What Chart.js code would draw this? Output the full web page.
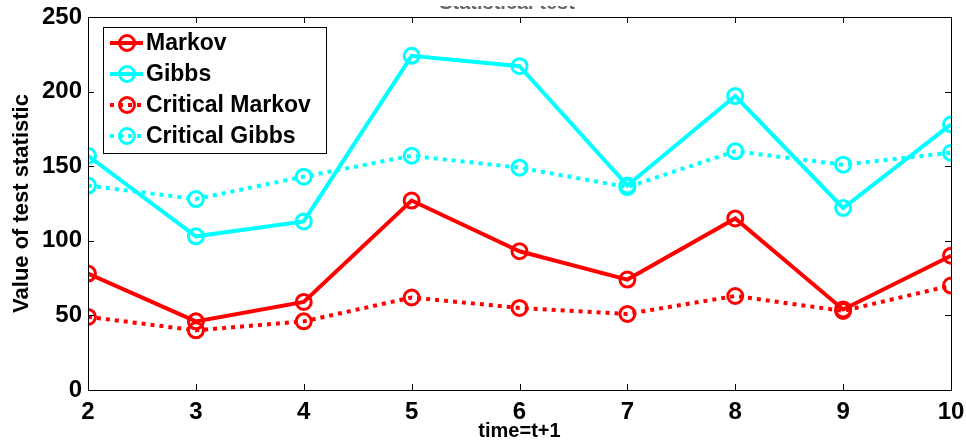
<!DOCTYPE html>
<html>
<head>
<meta charset="utf-8">
<script src="https://cdn.jsdelivr.net/npm/chart.js@4.4.1/dist/chart.umd.min.js"></script>
<style>
  html, body { margin: 0; padding: 0; background: #fff; }
  #wrap { width: 966px; height: 443px; position: relative; }
</style>
</head>
<body>
<div id="wrap"><canvas id="testChart" width="966" height="443"></canvas></div>
<script>
const FONT = "'Liberation Sans', Arial, sans-serif";

const times = [2, 3, 4, 5, 6, 7, 8, 9, 10];
const markov = [78, 46, 59, 127, 93, 74, 115, 54, 90];
const gibbs = [157, 103, 113, 224, 217, 137, 197, 122, 178];
const criticalMarkov = [49, 40, 46, 62, 55, 51, 63, 53, 70];
const criticalGibbs = [137, 128, 143, 157, 149, 136, 160, 151, 159];
const yTicks = [0, 50, 100, 150, 200, 250];

function toPoints(values) {
    return values.map((v, i) => ({ x: times[i], y: v }));
}

function series(label, values, color, dashed, order) {
    return {
        label: label,
        data: toPoints(values),
        borderColor: color,
        borderWidth: 4,
        borderDash: dashed ? [4, 5] : [],
        pointStyle: 'circle',
        pointRadius: 7.5,
        pointBorderWidth: 3,
        pointBorderColor: color,
        pointBackgroundColor: 'rgba(0,0,0,0)',
        pointHoverRadius: 7.5,
        fill: false,
        tension: 0,
        order: order
    };
}

// box, inward ticks on all four sides, cut-off title
const framePlugin = {
    id: 'frame',
    afterDraw(chart) {
        const ctx = chart.ctx;
        const a = chart.chartArea;
        const xs = chart.scales.x;
        const ys = chart.scales.y;
        ctx.save();
        ctx.strokeStyle = '#000';
        ctx.lineWidth = 1;
        ctx.beginPath();
        times.forEach(t => {
            const px = Math.round(xs.getPixelForValue(t)) + 0.5;
            ctx.moveTo(px, a.bottom);
            ctx.lineTo(px, a.bottom - 6);
            ctx.moveTo(px, a.top);
            ctx.lineTo(px, a.top + 6);
        });
        yTicks.forEach(v => {
            const py = Math.round(ys.getPixelForValue(v)) + 0.5;
            ctx.moveTo(a.left, py);
            ctx.lineTo(a.left + 6, py);
            ctx.moveTo(a.right, py);
            ctx.lineTo(a.right - 6, py);
        });
        ctx.stroke();
        ctx.strokeRect(Math.round(a.left) + 0.5, Math.round(a.top) + 0.5,
            Math.round(a.right - a.left), Math.round(a.bottom - a.top));

        // the title is cut off by the top edge of the picture
        ctx.beginPath();
        ctx.rect(0, 6, chart.width, 10);
        ctx.clip();
        ctx.fillStyle = '#666';
        ctx.font = 'bold 20px ' + FONT;
        ctx.textAlign = 'center';
        ctx.textBaseline = 'alphabetic';
        ctx.fillText('Statistical test', 507, 9);
        ctx.restore();
    }
};

// legend box in the upper left corner of the axes
const boxLegendPlugin = {
    id: 'boxLegend',
    afterDatasetsDraw(chart) {
        const ctx = chart.ctx;
        const a = chart.chartArea;
        const left = a.left + 15, top = a.top + 10;
        const w = 223, h = 126;
        ctx.save();
        ctx.fillStyle = '#fff';
        ctx.fillRect(left, top, w, h);
        ctx.strokeStyle = '#000';
        ctx.lineWidth = 1;
        ctx.strokeRect(left + 0.5, top + 0.5, w, h);
        ctx.font = 'bold 23px ' + FONT;
        ctx.textBaseline = 'middle';
        ctx.textAlign = 'left';
        chart.data.datasets.forEach((ds, i) => {
            const cy = top + 16 + i * 31;
            ctx.strokeStyle = ds.borderColor;
            ctx.lineWidth = ds.borderWidth;
            ctx.setLineDash(ds.borderDash);
            ctx.beginPath();
            ctx.moveTo(left + 7, cy);
            ctx.lineTo(left + 40, cy);
            ctx.stroke();
            ctx.setLineDash([]);
            ctx.lineWidth = ds.pointBorderWidth;
            ctx.beginPath();
            ctx.arc(left + 24, cy, ds.pointRadius, 0, Math.PI * 2);
            ctx.stroke();
            ctx.fillStyle = '#000';
            ctx.fillText(ds.label, left + 43, cy + 1);
        });
        ctx.restore();
    }
};

const chart = new Chart(document.getElementById('testChart').getContext('2d'), {
    type: 'line',
    data: {
        datasets: [
            series('Markov', markov, '#ff0000', false, 4),
            series('Gibbs', gibbs, '#00ffff', false, 3),
            series('Critical Markov', criticalMarkov, '#ff0000', true, 2),
            series('Critical Gibbs', criticalGibbs, '#00ffff', true, 1)
        ]
    },
    options: {
        responsive: false,
        animation: false,
        layout: { padding: { left: 0, right: 15, top: 17, bottom: 0 } },
        plugins: {
            legend: { display: false },
            title: { display: false },
            tooltip: { enabled: false }
        },
        scales: {
            x: {
                type: 'linear',
                min: 2,
                max: 10,
                grid: { display: false, drawTicks: false },
                border: { display: false },
                ticks: {
                    stepSize: 1,
                    padding: 8,
                    color: '#000',
                    font: { family: FONT, size: 24, weight: 'bold' }
                },
                title: {
                    display: true,
                    text: 'time=t+1',
                    color: '#000',
                    padding: { top: 0, bottom: 0 },
                    font: { family: FONT, size: 20, weight: 'bold' }
                },
                afterFit(scale) {
                    scale.height = 53;
                    scale.paddingLeft = 0;
                    scale.paddingRight = 0;
                }
            },
            y: {
                min: 0,
                max: 250,
                grid: { display: false, drawTicks: false },
                border: { display: false },
                ticks: {
                    stepSize: 50,
                    padding: 6,
                    color: '#000',
                    font: { family: FONT, size: 24, weight: 'bold' }
                },
                title: {
                    display: true,
                    text: 'Value of test statistic',
                    color: '#000',
                    padding: { top: 9, bottom: 0 },
                    font: { family: FONT, size: 22, weight: 'bold' }
                },
                afterFit(scale) {
                    scale.width = 88;
                    scale.paddingTop = 0;
                    scale.paddingBottom = 0;
                }
            }
        }
    },
    plugins: [boxLegendPlugin, framePlugin]
});
</script>
</body>
</html>
